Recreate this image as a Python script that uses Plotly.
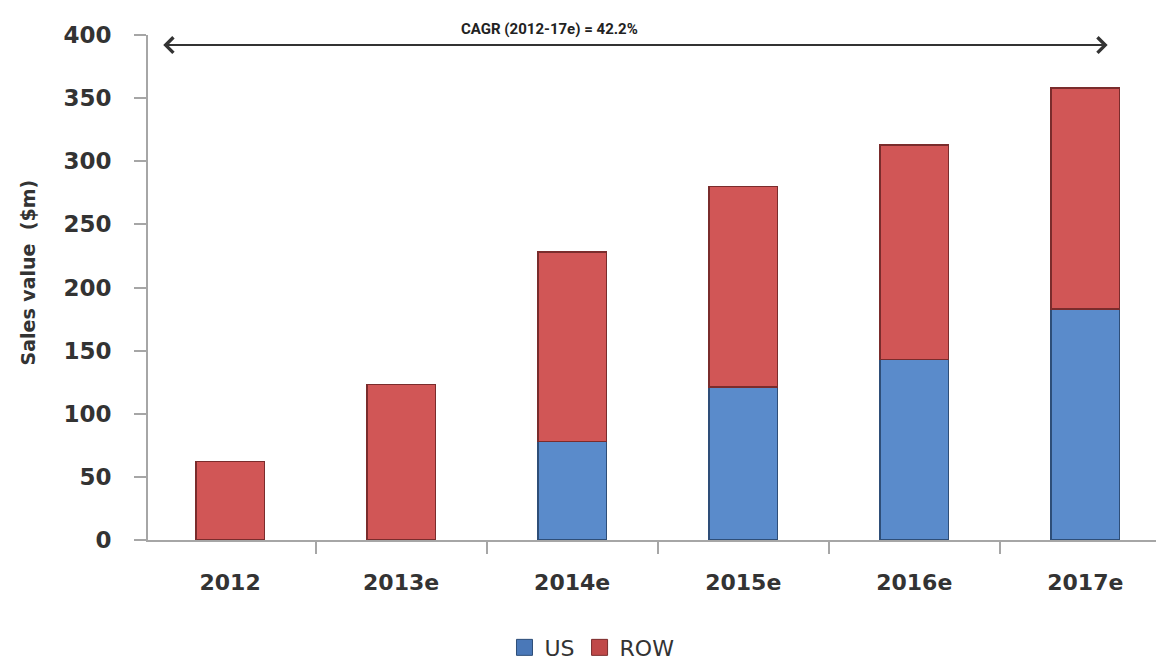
import plotly.graph_objects as go

categories = ["2012", "2013e", "2014e", "2015e", "2016e", "2017e"]
us_values = [0, 0, 78, 121, 143, 183]
row_values = [62, 123, 150, 159, 170, 175]
y_ticks = [0, 50, 100, 150, 200, 250, 300, 350, 400]
cagr_text = "CAGR (2012-17e) = 42.2%"

US_FACE, US_EDGE = "#5A8BCB", "#2E4E78"
ROW_FACE, ROW_EDGE = "#D15656", "#7A2C2C"

fig = go.Figure()
fig.add_trace(go.Bar(
    x=categories, y=us_values, name="US", showlegend=False,
    marker=dict(color=US_FACE, line=dict(color=US_EDGE, width=1.5)),
))
fig.add_trace(go.Bar(
    x=categories, y=row_values, name="ROW", showlegend=False,
    marker=dict(color=ROW_FACE, line=dict(color=ROW_EDGE, width=1.5)),
))
# legend entries with larger square swatches
fig.add_trace(go.Scatter(
    x=[None], y=[None], mode="markers", name="US",
    marker=dict(symbol="square", size=21, color="#4A78B8", line=dict(color=US_EDGE, width=1)),
))
fig.add_trace(go.Scatter(
    x=[None], y=[None], mode="markers", name="ROW",
    marker=dict(symbol="square", size=21, color="#C04848", line=dict(color=ROW_EDGE, width=1)),
))

fig.update_layout(
    width=1156, height=652,
    barmode="stack", bargap=0.6,
    paper_bgcolor="white", plot_bgcolor="white",
    margin=dict(l=140, r=0, t=27, b=120, autoexpand=False),
    font=dict(family="DejaVu Sans", color="#333333"),
    showlegend=True,
    legend=dict(orientation="h", x=0.437, xanchor="center", y=-0.213, yanchor="middle",
                font=dict(size=22, color="#333333"), itemwidth=30, traceorder="normal",
                tracegroupgap=0, itemsizing="trace"),
)
fig.update_xaxes(
    type="category", range=[-0.48, 5.46], automargin=False,
    showline=True, linecolor="#A6A6A6", linewidth=2,
    ticks="outside", tickson="boundaries", ticklen=12, tickcolor="#A6A6A6", tickwidth=1.5,
    tickfont=dict(size=22, color="#333333", weight="bold"), ticklabelstandoff=22,
    showgrid=False, zeroline=False,
)
fig.update_yaxes(
    range=[0, 400], tickvals=y_ticks, automargin=False,
    showline=True, linecolor="#A6A6A6", linewidth=2,
    ticks="outside", ticklen=12, tickcolor="#A6A6A6", tickwidth=1.5,
    tickfont=dict(size=23, color="#333333", weight="bold"), ticklabelstandoff=18,
    showgrid=False, zeroline=False,
)

# y-axis title
fig.add_annotation(
    text="<b>Sales value  ($m)</b>", xref="paper", yref="paper",
    x=-0.118, y=0.53, xanchor="center", yanchor="middle", textangle=-90, showarrow=False,
    font=dict(size=19, color="#333333"),
)
# CAGR double-headed arrow
fig.add_annotation(
    xref="x domain", yref="y", axref="x domain", ayref="y",
    x=0.015, y=392, ax=0.946, ay=392, text="",
    showarrow=True, arrowhead=4, startarrowhead=4, arrowside="end+start",
    arrowsize=1.5, startarrowsize=1.5, arrowwidth=2, arrowcolor="#333333",
)
fig.add_annotation(
    text="<b>" + cagr_text + "</b>", xref="x domain", yref="paper", x=0.395, y=1.012,
    xanchor="center", yanchor="middle",
    showarrow=False, font=dict(family="Liberation Sans Narrow, Roboto", size=15, color="#222222"),
)

fig.write_html("out.html")
